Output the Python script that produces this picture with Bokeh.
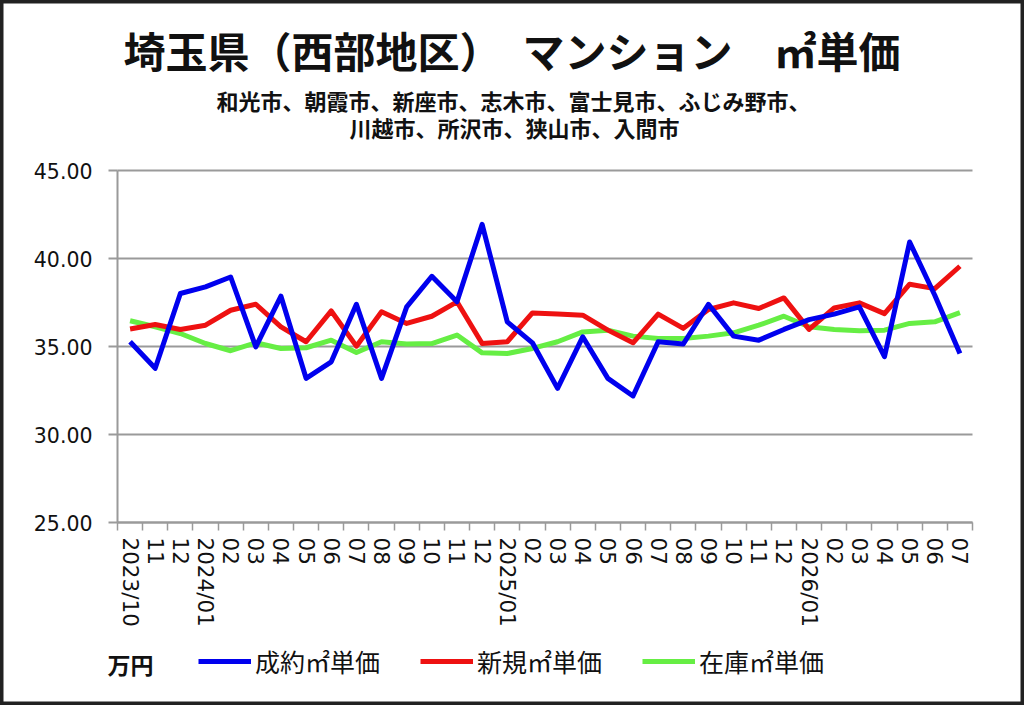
from bokeh.plotting import figure
from bokeh.models import (FixedTicker, Range1d, Legend, LegendItem, Label,
                          PrintfTickFormatter)
from bokeh.embed import file_html
from bokeh.resources import INLINE

# ---------------- data ----------------
months = ["2023/10", "11", "12", "2024/01", "02", "03", "04", "05", "06", "07",
          "08", "09", "10", "11", "12", "2025/01", "02", "03", "04", "05",
          "06", "07", "08", "09", "10", "11", "12", "2026/01", "02", "03",
          "04", "05", "06", "07"]

seiyaku = [35.27, 33.76, 38.01, 38.39, 38.95, 34.98, 37.86, 33.19, 34.13, 37.40,
           33.19, 37.25, 38.99, 37.54, 41.94, 36.40, 35.21, 32.62, 35.55, 33.19,
           32.19, 35.27, 35.14, 37.40, 35.59, 35.36, 35.97, 36.53, 36.84, 37.25,
           34.42, 40.94, 37.91, 34.60]

shinki = [35.99, 36.25, 35.97, 36.21, 37.06, 37.40, 36.12, 35.27, 37.02, 35.02,
          36.97, 36.31, 36.72, 37.54, 35.17, 35.27, 36.91, 36.84, 36.78, 35.93,
          35.21, 36.84, 36.03, 37.10, 37.48, 37.16, 37.76, 35.97, 37.19, 37.48,
          36.87, 38.54, 38.29, 39.56]

zaiko = [36.46, 36.12, 35.74, 35.17, 34.76, 35.21, 34.89, 34.93, 35.36, 34.66,
         35.27, 35.14, 35.17, 35.65, 34.64, 34.60, 34.89, 35.27, 35.83, 35.93,
         35.59, 35.46, 35.46, 35.59, 35.78, 36.21, 36.72, 36.12, 35.97, 35.89,
         35.93, 36.31, 36.40, 36.93]

y_ticks = [25, 30, 35, 40, 45]
y_min, y_max = 25, 45
series_names = ["成約㎡単価", "新規㎡単価", "在庫㎡単価"]
series_colors = ["#0000EE", "#EE1111", "#66EE44"]

title_text = "埼玉県（西部地区）　マンション　㎡単価"
sub1 = "和光市、朝霞市、新座市、志木市、富士見市、ふじみ野市、"
sub2 = "川越市、所沢市、狭山市、入間市"
unit_text = "万円"

# ---------------- layout ----------------
W, H = 1024, 705
FL, FR, FT, FB = 117, 972, 170, 522     # plotting area in canvas pixels
n = len(months)
xs = list(range(n))
cjk = "Noto Sans CJK JP"

# the frame covers the whole canvas; axes sit at fixed data locations
kx = (FR - FL) / n                      # px per category
ky = (FB - FT) / (y_max - y_min)        # px per unit
x0 = -0.5 - FL / kx
y1 = y_max + FT / ky

p = figure(width=W, height=H, output_backend="svg", toolbar_location=None,
           x_range=Range1d(x0, x0 + W / kx), y_range=Range1d(y1 - H / ky, y1),
           min_border=0)
p.outline_line_color = "#222222"
p.outline_line_width = 6
p.background_fill_color = "white"
p.border_fill_color = "white"


def dx(px):
    return x0 + px / kx


def dy(py):
    return y1 - py / ky


# grid
p.xgrid.visible = False
g = p.ygrid[0]
g.ticker = FixedTicker(ticks=y_ticks)
g.grid_line_color = "#9a9a9a"
g.grid_line_width = 2
if "cross_bounds" in g.properties():
    g.cross_bounds = (-0.5, n - 0.5)
else:
    g.visible = False
    p.multi_line([[-0.5, n - 0.5] for _ in y_ticks], [[t, t] for t in y_ticks],
                 line_color="#9a9a9a", line_width=2)

# y axis
ya = p.yaxis[0]
ya.fixed_location = -0.5
ya.bounds = (y_min, y_max)
ya.ticker = FixedTicker(ticks=y_ticks)
ya.formatter = PrintfTickFormatter(format="%.2f")
ya.axis_line_color = "#9a9a9a"
ya.axis_line_width = 2
ya.major_tick_line_color = "#9a9a9a"
ya.major_tick_line_width = 2
ya.major_tick_out = 9
ya.major_tick_in = 0
ya.minor_tick_line_color = None
ya.major_label_standoff = 16
ya.major_label_text_font = "DejaVu Sans"
ya.major_label_text_font_size = "20.5px"
ya.major_label_text_color = "#111111"

# x axis
xa = p.xaxis[0]
xa.fixed_location = y_min
xa.bounds = (-0.5, n - 0.5)
xa.ticker = FixedTicker(ticks=xs, minor_ticks=[i - 0.5 for i in range(n + 1)])
xa.major_label_overrides = {i: m for i, m in enumerate(months)}
xa.major_label_orientation = "vertical"
xa.axis_line_color = "#9a9a9a"
xa.axis_line_width = 2
xa.major_tick_line_color = None
xa.major_tick_out = 0
xa.major_tick_in = 0
xa.minor_tick_line_color = "#9a9a9a"
xa.minor_tick_line_width = 1.5
xa.minor_tick_out = 8
xa.minor_tick_in = 0
xa.major_label_standoff = 7
xa.major_label_text_font = "DejaVu Sans"
xa.major_label_text_font_size = "21.5px"
xa.major_label_text_color = "#111111"

# lines
renderers = []
for vals, col in zip([seiyaku, shinki, zaiko], series_colors):
    r = p.line(xs, vals, line_color=col, line_width=5, line_join="round")
    renderers.append(r)
others = [r for r in p.renderers if r not in renderers]
p.renderers = others + [renderers[2], renderers[1], renderers[0]]

# texts
p.add_layout(Label(x=dx(511.5), y=dy(49), text=title_text, text_font=cjk,
                   text_font_size="42px", text_font_style="bold",
                   text_align="center", text_baseline="middle",
                   text_color="#111111"))
p.add_layout(Label(x=dx(513), y=dy(99), text=sub1, text_font=cjk,
                   text_font_size="22px", text_font_style="bold",
                   text_align="center", text_baseline="middle",
                   text_color="#111111"))
p.add_layout(Label(x=dx(514), y=dy(126.5), text=sub2, text_font=cjk,
                   text_font_size="22px", text_font_style="bold",
                   text_align="center", text_baseline="middle",
                   text_color="#111111"))
p.add_layout(Label(x=dx(107), y=dy(663), text=unit_text, text_font=cjk,
                   text_font_size="23px", text_font_style="bold",
                   text_align="left", text_baseline="middle",
                   text_color="#111111"))

# legend
legend = Legend(items=[LegendItem(label=nm, renderers=[r])
                       for nm, r in zip(series_names, renderers)],
                orientation="horizontal", location=(198, H - 679),
                glyph_width=53, glyph_height=26, label_standoff=4, spacing=40,
                padding=0, margin=0, border_line_color=None,
                background_fill_alpha=0,
                label_text_font=cjk, label_text_font_size="25px",
                label_text_color="#111111")
p.add_layout(legend, "center")

open("out.html", "w").write(file_html(p, INLINE))
